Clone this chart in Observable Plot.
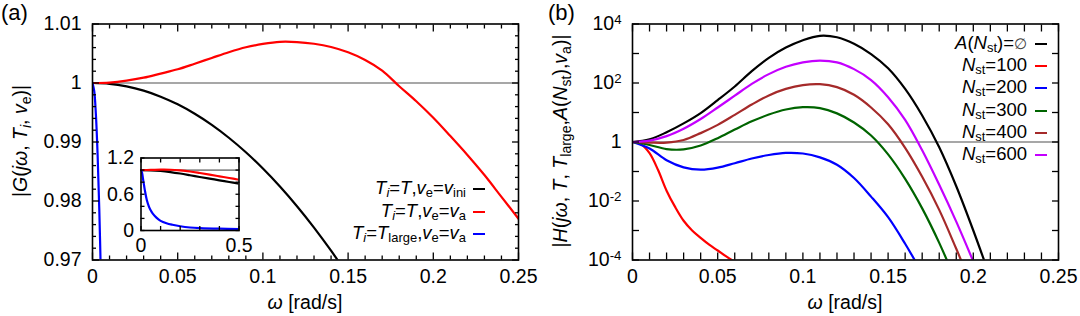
<!DOCTYPE html>
<html><head><meta charset="utf-8">
<script src="https://cdn.jsdelivr.net/npm/d3@7"></script>
<script src="https://cdn.jsdelivr.net/npm/@observablehq/plot@0.6"></script>
<style>
html,body{margin:0;padding:0;background:#fff;}
#wrap{position:relative;width:1080px;height:316px;overflow:hidden;font-family:"Liberation Sans",Arial,Helvetica,sans-serif;color:#000;background:#fff;}
#wrap svg{position:absolute;overflow:visible;}
.t{position:absolute;white-space:nowrap;line-height:1;font-size:19.5px;}
.t sub{font-size:0.72em;vertical-align:-0.3em;line-height:0;}
.lg{font-size:18.5px;line-height:0.9;}
.lg sub{font-size:0.7em;vertical-align:-0.22em;}
.sw{position:absolute;height:2px;width:12px;}
.rot{transform:translate(-50%,-50%) rotate(-90deg);}
</style></head><body><div id="wrap"></div>
<script>
// ---------- data ----------
// panel (a): |G(jw,Ti,ve)|
const wA_black = [0,0.01,0.02,0.03,0.04,0.05,0.06,0.07,0.08,0.09,0.10,0.11,0.12,0.13,0.14,0.15];
const gA_black = [1,0.99986,0.99942,0.9987,0.99768,0.99638,0.99478,0.9929,0.99072,0.98826,0.9855,0.98246,0.97912,0.9755,0.97158,0.96738];
const wA_red = [0,0.01,0.02,0.03,0.04,0.05,0.06,0.07,0.08,0.09,0.10,0.11,0.12,0.13,0.14,0.15,0.16,0.17,0.18,0.19,0.20,0.21,0.22,0.23,0.24,0.25];
const gA_red = [1,1.00008,1.0004,1.0009,1.0016,1.00232,1.00327,1.00425,1.00522,1.00605,1.00662,1.00698,1.00694,1.00665,1.0061,1.0052,1.0039,1.0021,0.99945,0.9969,0.9941,0.9910,0.9878,0.9844,0.9807,0.9770];
const wA_blue = [0,0.001,0.002,0.003,0.004,0.005];
const gA_blue = [1,0.99865,0.9946,0.98785,0.9784,0.96625];
// inset of panel (a)
const wIn = [0,0.05,0.1,0.15,0.2,0.25,0.3,0.35,0.4,0.45,0.5];
const gIn_black = [1,0.9964,0.9855,0.967,0.943,0.915,0.886,0.858,0.831,0.803,0.776];
const gIn_red = [1,1.0023,1.0065,1.0052,0.9941,0.977,0.952,0.925,0.897,0.869,0.840];
const wIn_blue = [0,0.005,0.01,0.015,0.02,0.03,0.04,0.05,0.06,0.08,0.1,0.13,0.16,0.2,0.25,0.3,0.4,0.5];
const gIn_blue = [1,0.96,0.86,0.76,0.66,0.5,0.4,0.33,0.28,0.21,0.16,0.12,0.095,0.07,0.05,0.04,0.03,0.025];
// panel (b): |H(jw,T,Tlarge,A(Nst),va)|
const wB = [0,0.01,0.02,0.03,0.04,0.05,0.06,0.07,0.08,0.09,0.10,0.11,0.12,0.13,0.14,0.15,0.16,0.17,0.18,0.19,0.20,0.21];
const hB_none = [1,1.23,2.14,4.27,9.55,26.3,75.9,251,708,1585,2818,3981,3548,2138,955,316,63.1,7.94,0.661,0.0316,0.001,2.5e-5];
const hB_600 = [1,1.12,1.58,2.82,6.03,14.8,37.2,93.3,200,355,501,575,501,295,126,33.1,5.62,0.525,0.0355,0.002,8.9e-5];
const hB_400 = [1,0.955,0.955,1.17,2.0,3.8,8.3,18.6,38,63.1,85.1,91.2,72.4,39.8,14.8,3.98,0.631,0.066,0.005,2.4e-4,1e-5];
const hB_300 = [1,0.794,0.575,0.562,0.759,1.35,2.63,5.01,8.51,12.6,15.1,14.1,9.33,4.57,1.66,0.38,0.0562,0.00562,3.8e-4,1.78e-5];
const hB_200 = [1,0.603,0.24,0.138,0.115,0.135,0.191,0.275,0.363,0.427,0.407,0.302,0.17,0.0603,0.0141,0.00282,3.55e-4,3.55e-5];
const wB_100 = [0,0.005,0.01,0.015,0.02,0.025,0.03,0.035,0.04,0.045,0.05,0.055,0.06];
const hB_100 = [1,0.832,0.417,0.112,0.0224,0.0063,0.00214,0.001,5.6e-4,3.3e-4,2.1e-4,1.32e-4,8.7e-5];
// ticks
const xMajor = [0,0.05,0.1,0.15,0.2,0.25];
const xMinor = [0.01,0.02,0.03,0.04,0.06,0.07,0.08,0.09,0.11,0.12,0.13,0.14,0.16,0.17,0.18,0.19,0.21,0.22,0.23,0.24];
const yMajorA = [0.97,0.98,0.99,1,1.01];
const yMinorA = [0.972,0.974,0.976,0.978,0.982,0.984,0.986,0.988,0.992,0.994,0.996,0.998,1.002,1.004,1.006,1.008];
const yMajorB = [1e-4,1e-2,1,1e2,1e4];
const yLabelB = ["10^-4","10^-2","1","10^2","10^4"];
const yMinorB = [1e-3,1e-1,10,1e3];
const xInTicks = [0,0.1,0.2,0.3,0.4,0.5];
const xInLabels = [0,0.5];
const yInTicks = [0,0.2,0.4,0.6,0.8,1.0,1.2];
const yInLabels = [0,0.6,1.2];
// legends
const legendA = [
  {html:'<i>T<sub>i</sub></i>=<i>T</i>,<i>v</i><sub>e</sub>=<i>v</i><sub>ini</sub>', color:'#000000'},
  {html:'<i>T<sub>i</sub></i>=<i>T</i>,<i>v</i><sub>e</sub>=<i>v</i><sub>a</sub>', color:'#ff0000'},
  {html:'<i>T<sub>i</sub></i>=<i>T</i><sub>large</sub>,<i>v</i><sub>e</sub>=<i>v</i><sub>a</sub>', color:'#0000ff'}
];
const legendB = [
  {html:'<i>A</i>(<i>N</i><sub>st</sub>)=<span style="font-size:0.8em;color:#444">∅</span>', color:'#000000'},
  {html:'<i>N</i><sub>st</sub>=100', color:'#ff0000'},
  {html:'<i>N</i><sub>st</sub>=200', color:'#0000ff'},
  {html:'<i>N</i><sub>st</sub>=300', color:'#006400'},
  {html:'<i>N</i><sub>st</sub>=400', color:'#a52a2a'},
  {html:'<i>N</i><sub>st</sub>=600', color:'#c400ff'}
];

// ---------- helpers ----------
const FONT = '"Liberation Sans", Arial, Helvetica, sans-serif';
const none = () => "";
const zip = (xs, ys) => xs.slice(0, ys.length).map((x, i) => ({x, y: ys[i]}));
function line(xs, ys, color) {
  return Plot.line(zip(xs, ys), {x: "x", y: "y", stroke: color, strokeWidth: 2.2, curve: "catmull-rom", clip: true});
}
function boxAxes(xMaj, xMin, yMaj, yMin, xLab, yLab, xFmt, yFmt, major, minor, padX, padY) {
  const m = [
    Plot.axisX(xLab, {anchor: "bottom", tickSize: 0, tickPadding: padX, tickFormat: xFmt, label: null}),
    Plot.axisY(yLab, {anchor: "left", tickSize: 0, tickPadding: padY, tickFormat: yFmt, label: null})
  ];
  for (const a of ["bottom", "top"]) {
    m.push(Plot.axisX(xMaj, {anchor: a, tickSize: -major, tickFormat: none, label: null, strokeWidth: 1.3}));
    if (xMin.length) m.push(Plot.axisX(xMin, {anchor: a, tickSize: -minor, tickFormat: none, label: null, strokeWidth: 1.3}));
  }
  for (const a of ["left", "right"]) {
    m.push(Plot.axisY(yMaj, {anchor: a, tickSize: -major, tickFormat: none, label: null, strokeWidth: 1.3}));
    if (yMin.length) m.push(Plot.axisY(yMin, {anchor: a, tickSize: -minor, tickFormat: none, label: null, strokeWidth: 1.3}));
  }
  return m;
}
const style = {fontSize: "19.5px", fontFamily: FONT, background: "transparent", color: "black", overflow: "visible"};
const wrap = document.getElementById("wrap");
function put(node, left, top) { node.style.left = left + "px"; node.style.top = top + "px"; wrap.appendChild(node); }
function text(html, left, top, cls = "t", extra = "") {
  const d = document.createElement("div"); d.className = cls; d.innerHTML = html;
  if (extra) d.style.cssText = extra;
  put(d, left, top); return d;
}

// ---------- panel (a) ----------
const svgA = Plot.plot({
  width: 540, height: 316, marginLeft: 92, marginRight: 22, marginTop: 23.5, marginBottom: 56.5,
  style, x: {domain: [0, 0.25], label: null}, y: {domain: [0.97, 1.01], label: null},
  marks: [
    Plot.ruleY([1], {stroke: "#8a8a8a", strokeWidth: 1.5}),
    line(wA_black, gA_black, "#000000"),
    line(wA_red, gA_red, "#ff0000"),
    line(wA_blue, gA_blue, "#0000ff"),
    Plot.frame({stroke: "black", strokeWidth: 1.6}),
    ...boxAxes(xMajor, xMinor, yMajorA, yMinorA, xMajor, yMajorA, d => String(d), d => String(d), 7, 4, 9, 11)
  ]
});
put(svgA, 0, 0);

// inset
const svgIn = Plot.plot({
  width: 160, height: 110, marginLeft: 40.5, marginRight: 21.5, marginTop: 7.5, marginBottom: 30,
  style, x: {domain: [0, 0.5], label: null}, y: {domain: [0, 1.2], label: null},
  marks: [
    Plot.frame({fill: "white"}),
    Plot.ruleY([1], {stroke: "#333", strokeWidth: 1}),
    line(wIn, gIn_black, "#000000"),
    line(wIn, gIn_red, "#ff0000"),
    line(wIn_blue, gIn_blue, "#0000ff"),
    Plot.frame({stroke: "black", strokeWidth: 1.6}),
    ...boxAxes(xInTicks, [], yInTicks, [], xInLabels, yInLabels, d => String(d), d => String(d), 4, 4, 8, 7)
  ]
});
put(svgIn, 100, 150);

// ---------- panel (b) ----------
const svgB = Plot.plot({
  width: 540, height: 316, marginLeft: 92, marginRight: 22, marginTop: 23.5, marginBottom: 56.5,
  style, x: {domain: [0, 0.25], label: null}, y: {type: "log", domain: [1e-4, 1e4], label: null},
  marks: [
    Plot.ruleY([1], {stroke: "#8a8a8a", strokeWidth: 1.5}),
    line(wB, hB_none, "#000000"),
    line(wB_100, hB_100, "#ff0000"),
    line(wB, hB_200, "#0000ff"),
    line(wB, hB_300, "#006400"),
    line(wB, hB_400, "#a52a2a"),
    line(wB, hB_600, "#c400ff"),
    Plot.frame({stroke: "black", strokeWidth: 1.6}),
    ...boxAxes(xMajor, xMinor, yMajorB, yMinorB, xMajor, yMajorB, d => String(d), d => yLabelB[yMajorB.indexOf(d)], 7, 7, 9, 11)
  ]
});
put(svgB, 540, 0);
// superscripts for the log tick labels
d3.select(svgB).selectAll("text").each(function () {
  const m = /^10\^(.+)$/.exec(this.textContent);
  if (!m) return;
  const s = d3.select(this); s.text("");
  s.append("tspan").text("10");
  s.append("tspan").attr("dy", "-0.5em").attr("font-size", "0.68em").text(m[1]);
});

// ---------- labels ----------
text("(a)", 1, 2, "t", "font-size:22px");
text("(b)", 548, 2, "t", "font-size:22px");
const xl = '<i>ω</i> [rad/s]';
text(xl, 305, 303, "t", "transform:translate(-50%,-50%)");
text(xl, 845, 303, "t", "transform:translate(-50%,-50%)");
text('|<i>G</i>(<i>jω</i>, <i>T<sub>i</sub></i>, <i>v</i><sub>e</sub>)|', 21, 141, "t rot");
text('|<i>H</i>(<i>jω</i>, <i>T</i>, <i>T</i><sub>large</sub>,<i>A</i>(<i>N</i><sub>st</sub>),<i>v</i><sub>a</sub>)|', 561, 141, "t rot");

// legends
const rowsA = [189.3, 211.7, 234];
legendA.forEach((d, i) => {
  const el = text(d.html, 0, rowsA[i] - 9, "t lg");
  el.style.left = ""; el.style.right = (1080 - 466) + "px";
  const s = document.createElement("div"); s.className = "sw"; s.style.background = d.color;
  put(s, 473, rowsA[i] - 1);
});
const rowsB = [44, 66, 88.3, 110.7, 132.7, 155];
legendB.forEach((d, i) => {
  const el = text(d.html, 0, rowsB[i] - 9, "t lg");
  el.style.left = ""; el.style.right = (1080 - 1027) + "px";
  const s = document.createElement("div"); s.className = "sw"; s.style.background = d.color;
  put(s, 1035, rowsB[i] - 1);
});
</script></body></html>
